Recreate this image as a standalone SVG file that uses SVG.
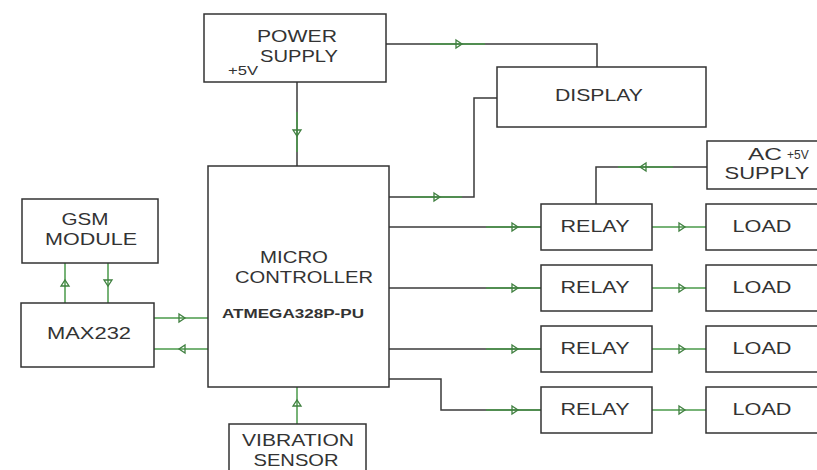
<svg xmlns="http://www.w3.org/2000/svg" width="817" height="470" viewBox="0 0 817 470">
<style>
.box{fill:#fff;stroke:#333;stroke-width:1.5}
.ln{fill:none;stroke:#3a3a3a;stroke-width:1.5}
.gr{fill:none;stroke:#4a9a4a;stroke-width:1.5}
.ar{fill:none;stroke:#3f7f3f;stroke-width:1.3}
text{font-family:"Liberation Sans",Arial,sans-serif;fill:#333;font-size:17px;text-anchor:middle}
.sm{font-size:12px}
.lbl{text-anchor:start}
</style>
<defs>
<path id="arr" d="M-3,-4 L3,0 L-3,4 Z"/>
</defs>
<rect width="817" height="470" fill="#fff"/>
<g id="connectors">
<path class="ln" d="M297,82 V166"/>
<path class="gr" d="M297,112 V152"/>
<use href="#arr" class="ar" transform="translate(297,133) rotate(90)"/>
<path class="ln" d="M386,44 H597 V67"/>
<path class="gr" d="M430,44 H485"/>
<use href="#arr" class="ar" transform="translate(459,44)"/>
<path class="ln" d="M389,197 H474 V98 H497"/>
<path class="gr" d="M410,197 H462"/>
<use href="#arr" class="ar" transform="translate(437,197)"/>
<path class="ln" d="M707,167 H596 V204"/>
<path class="gr" d="M618,167 H673"/>
<use href="#arr" class="ar" transform="translate(643,167) rotate(180)"/>
<path class="ln" d="M389,227 H541"/>
<path class="gr" d="M486,227 H541"/>
<use href="#arr" class="ar" transform="translate(515,227)"/>
<path class="ln" d="M389,288 H541"/>
<path class="gr" d="M486,288 H541"/>
<use href="#arr" class="ar" transform="translate(515,288)"/>
<path class="ln" d="M389,349 H541"/>
<path class="gr" d="M486,349 H541"/>
<use href="#arr" class="ar" transform="translate(515,349)"/>
<path class="ln" d="M389,379 H441 V410 H541"/>
<path class="gr" d="M486,410 H541"/>
<use href="#arr" class="ar" transform="translate(515,410)"/>
<path class="gr" d="M652,227 H706"/>
<use href="#arr" class="ar" transform="translate(682,227)"/>
<path class="gr" d="M652,288 H706"/>
<use href="#arr" class="ar" transform="translate(682,288)"/>
<path class="gr" d="M652,349 H706"/>
<use href="#arr" class="ar" transform="translate(682,349)"/>
<path class="gr" d="M652,410 H706"/>
<use href="#arr" class="ar" transform="translate(682,410)"/>
<path class="gr" d="M65,263 V303"/>
<use href="#arr" class="ar" transform="translate(65,283) rotate(-90)"/>
<path class="gr" d="M108,263 V303"/>
<use href="#arr" class="ar" transform="translate(108,283) rotate(90)"/>
<path class="gr" d="M154,318 H208"/>
<use href="#arr" class="ar" transform="translate(182,318)"/>
<path class="gr" d="M154,349 H208"/>
<use href="#arr" class="ar" transform="translate(182,349) rotate(180)"/>
<path class="gr" d="M297,424 V387"/>
<use href="#arr" class="ar" transform="translate(297,403) rotate(-90)"/>
</g>
<g id="power">
<rect class="box" x="204" y="14" width="182" height="68"/>
<text x="297" y="42" textLength="80" lengthAdjust="spacingAndGlyphs">POWER</text>
<text x="299" y="62" textLength="78" lengthAdjust="spacingAndGlyphs">SUPPLY</text>
<text class="sm lbl" x="228" y="75" textLength="30" lengthAdjust="spacingAndGlyphs">+5V</text>
</g>
<g id="display">
<rect class="box" x="497" y="67" width="209" height="60"/>
<text x="599" y="101" textLength="88" lengthAdjust="spacingAndGlyphs">DISPLAY</text>
</g>
<g id="acsupply">
<rect class="box" x="707" y="141" width="115" height="48"/>
<text x="765" y="160" textLength="34" lengthAdjust="spacingAndGlyphs">AC</text>
<text class="sm lbl" x="787" y="159">+5V</text>
<text x="767" y="179" textLength="85" lengthAdjust="spacingAndGlyphs">SUPPLY</text>
</g>
<g id="mcu">
<rect class="box" x="208" y="166" width="181" height="221"/>
<text x="294" y="263" textLength="68" lengthAdjust="spacingAndGlyphs">MICRO</text>
<text x="304" y="283" textLength="138" lengthAdjust="spacingAndGlyphs">CONTROLLER</text>
<text class="sm lbl" x="222" y="318" textLength="142" lengthAdjust="spacingAndGlyphs" font-weight="600">ATMEGA328P-PU</text>
</g>
<g id="gsm">
<rect class="box" x="22" y="199" width="136" height="64"/>
<text x="85" y="225" font-size="16" textLength="47" lengthAdjust="spacingAndGlyphs">GSM</text>
<text x="91" y="245" font-size="16" textLength="92" lengthAdjust="spacingAndGlyphs">MODULE</text>
</g>
<g id="max232">
<rect class="box" x="21" y="303" width="133" height="64"/>
<text x="89" y="339" textLength="84" lengthAdjust="spacingAndGlyphs">MAX232</text>
</g>
<g id="vibration">
<rect class="box" x="229" y="424" width="137" height="60"/>
<text x="298" y="446" textLength="112" lengthAdjust="spacingAndGlyphs">VIBRATION</text>
<text x="296" y="466" textLength="85" lengthAdjust="spacingAndGlyphs">SENSOR</text>
</g>
<g id="relay1">
<rect class="box" x="541" y="204" width="111" height="46"/>
<text x="595" y="232" textLength="69" lengthAdjust="spacingAndGlyphs">RELAY</text>
</g>
<g id="relay2">
<rect class="box" x="541" y="265" width="111" height="46"/>
<text x="595" y="293" textLength="69" lengthAdjust="spacingAndGlyphs">RELAY</text>
</g>
<g id="relay3">
<rect class="box" x="541" y="326" width="111" height="46"/>
<text x="595" y="354" textLength="69" lengthAdjust="spacingAndGlyphs">RELAY</text>
</g>
<g id="relay4">
<rect class="box" x="541" y="387" width="111" height="46"/>
<text x="595" y="415" textLength="69" lengthAdjust="spacingAndGlyphs">RELAY</text>
</g>
<g id="load1">
<rect class="box" x="706" y="204" width="115" height="46"/>
<text x="762" y="232" textLength="59" lengthAdjust="spacingAndGlyphs">LOAD</text>
</g>
<g id="load2">
<rect class="box" x="706" y="265" width="115" height="46"/>
<text x="762" y="293" textLength="59" lengthAdjust="spacingAndGlyphs">LOAD</text>
</g>
<g id="load3">
<rect class="box" x="706" y="326" width="115" height="46"/>
<text x="762" y="354" textLength="59" lengthAdjust="spacingAndGlyphs">LOAD</text>
</g>
<g id="load4">
<rect class="box" x="706" y="387" width="115" height="46"/>
<text x="762" y="415" textLength="59" lengthAdjust="spacingAndGlyphs">LOAD</text>
</g>
</svg>
